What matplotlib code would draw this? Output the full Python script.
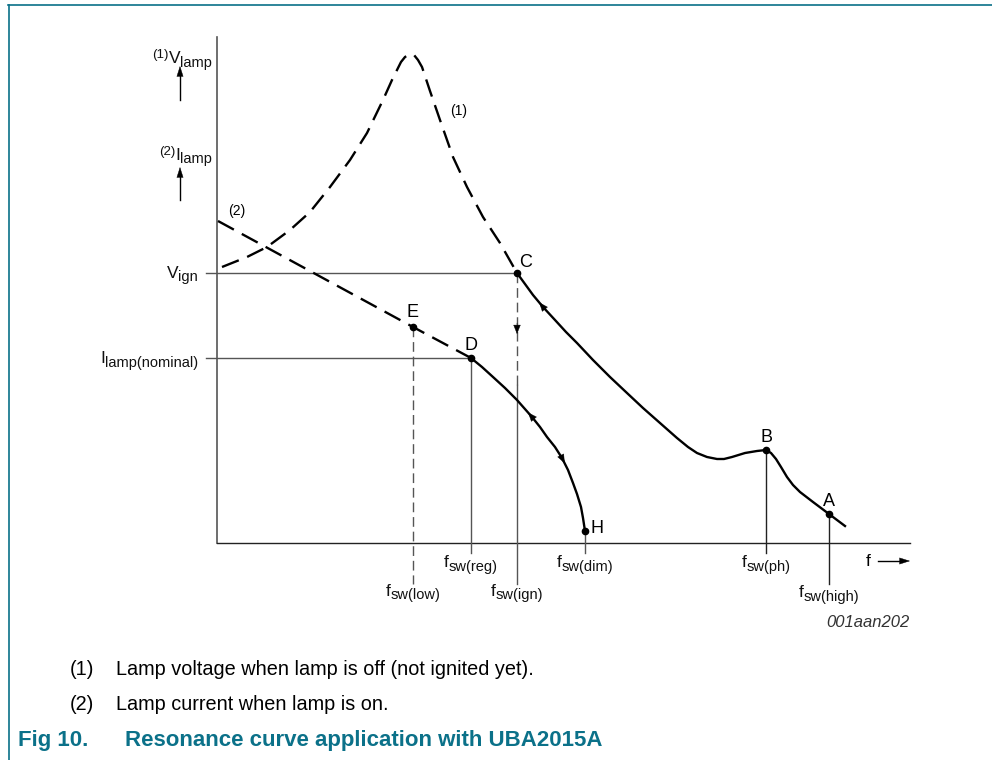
import matplotlib
matplotlib.use("Agg")
import matplotlib.pyplot as plt
import numpy as np

# Resonance curve, UBA2015A (sketch in figure pixel units)

# curve (1) lamp voltage, lamp off (dashed up to C)
VoltOffX = [222, 247, 267, 290, 310, 330, 350, 367, 383, 392, 397, 401, 405, 410, 414, 418, 422, 426, 430, 440, 453, 467, 483, 500, 517]
VoltOffY = [267, 257, 247, 230, 212, 187, 160, 133, 100, 80, 70, 62, 57, 54, 55, 60, 67, 79, 91, 120, 157, 187, 217, 243, 273]
# voltage after ignition (solid, C -> A)
VoltOnX = [517, 525, 533, 543, 555, 566, 577, 593, 610, 627, 643, 660, 677, 688, 697, 707, 717, 724, 732, 745,
           757, 766, 771, 776, 781, 787, 793, 800, 813, 829, 845]
VoltOnY = [273, 284, 295, 307, 320, 332, 343, 360, 377, 393, 408, 423, 438, 447, 453, 457, 459, 459, 457, 453,
           451, 450, 453, 459, 467, 477, 485, 492, 502, 514, 526]
# curve (2) lamp current
CurOffX = [218, 413, 471]
CurOffY = [221, 327, 358]
CurOnX = [471, 482, 493, 505, 517, 532, 540, 547, 555, 562, 568, 573, 577, 581, 583, 585]
CurOnY = [358, 367, 377, 388, 400, 417, 427, 437, 447, 458, 470, 483, 494, 507, 518, 531]

PointNames = ["C", "E", "D", "H", "B", "A"]
PointX = [517, 413, 471, 585, 766, 829]
PointY = [273, 327, 358, 531, 450, 514]

AxisY = 543
AxisX = 217

plt.rcParams['font.family'] = ['Liberation Sans', 'DejaVu Sans']
plt.rcParams['lines.scale_dashes'] = False

fig = plt.figure(figsize=(9.92, 7.6), dpi=100)
ax = fig.add_axes([0, 0, 1, 1])
ax.set_xlim(0, 992)
ax.set_ylim(760, 0)
ax.axis('off')
rend = fig.canvas.get_renderer()

teal = '#0b7189'
grey = '#555555'
HeadSmall = '-|>,head_length=0.4,head_width=0.16'


def TextWidth(s, size, **kw):
    t = ax.text(0, 0, s, fontsize=size, **kw)
    w = t.get_window_extent(rend).width
    t.remove()
    return w


def SubLabel(x, y, main, sub, ha='center', pre=None, size=12.5, subsize=10.5, drop=3.5):
    parts = []
    if pre:
        parts.append((pre, 9.5, -5))
    parts.append((main, size, 0))
    parts.append((sub, subsize, drop))
    widths = [TextWidth(s, fs) for s, fs, d in parts]
    total = sum(widths)
    if ha == 'center':
        x0 = x - total / 2
    elif ha == 'right':
        x0 = x - total
    else:
        x0 = x
    for (s, fs, d), w in zip(parts, widths):
        ax.text(x0, y + d, s, fontsize=fs, va='baseline', ha='left', color='#111111')
        x0 += w


def Arrow(x0, y0, x1, y1, lw=0.0, ms=12, style=HeadSmall):
    ax.annotate('', xy=(x1, y1), xytext=(x0, y0),
                arrowprops=dict(arrowstyle=style, color='black', lw=lw, mutation_scale=ms,
                                shrinkA=0, shrinkB=0))


def CurveArrow(xs, ys, at, toward):
    # small filled head on a curve, pointing toward the end given by 'toward'
    i = int(np.argmin(np.abs(np.array(xs) - at)))
    x1, y1 = xs[i], ys[i]
    j = i - 1 if toward == 'start' else i + 1
    dx, dy = xs[j] - x1, ys[j] - y1
    n = np.hypot(dx, dy)
    Arrow(x1 - dx / n * 2, y1 - dy / n * 2, x1 + dx / n * 6, y1 + dy / n * 6, lw=0.3, ms=15)


# frame
ax.plot([8, 992], [5, 5], color=teal, lw=1.2)
ax.plot([9, 9], [5, 760], color=teal, lw=1.2)

# axes
ax.plot([AxisX, AxisX], [37, AxisY], color=grey, lw=1.2)
ax.plot([AxisX, 910], [AxisY, AxisY], color='#222222', lw=1.0)

# horizontal guides
ax.plot([206, PointX[0]], [PointY[0], PointY[0]], color=grey, lw=1.0)
ax.plot([206, PointX[2]], [PointY[2], PointY[2]], color=grey, lw=1.0)

# vertical guides
ax.plot([PointX[1], PointX[1]], [PointY[1], 584], color=grey, lw=1.0, dashes=(7, 3.5))
ax.plot([PointX[2], PointX[2]], [PointY[2], 553], color=grey, lw=1.0)
ax.plot([PointX[0], PointX[0]], [PointY[0], 385], color=grey, lw=1.0, dashes=(7, 3.5))
ax.plot([PointX[0], PointX[0]], [385, 584], color=grey, lw=1.0)
ax.plot([PointX[3], PointX[3]], [PointY[3], 553], color=grey, lw=1.0)
ax.plot([PointX[4], PointX[4]], [PointY[4], 553], color='#222222', lw=1.0)
ax.plot([PointX[5], PointX[5]], [PointY[5], 584], color='#222222', lw=1.0)
Arrow(PointX[0], 323, PointX[0], 334, lw=0.3, ms=15)

# curves
ax.plot(VoltOffX, VoltOffY, color='black', lw=1.7, dashes=(13, 6.5))
ax.plot(VoltOnX, VoltOnY, color='black', lw=1.7)
ax.plot(CurOffX, CurOffY, color='black', lw=1.7, dashes=(13, 6.5))
ax.plot(CurOnX, CurOnY, color='black', lw=1.7)

CurveArrow(VoltOnX, VoltOnY, 543, 'start')
CurveArrow(CurOnX, CurOnY, 532, 'start')
CurveArrow(CurOnX, CurOnY, 562, 'end')

# key points
ax.plot(PointX, PointY, 'o', color='black', ms=4.5)
ax.text(519, 267, "C", fontsize=13, va='baseline', ha='left')
ax.text(413, 317, "E", fontsize=13, va='baseline', ha='center')
ax.text(471, 350, "D", fontsize=13, va='baseline', ha='center')
ax.text(590, 533, "H", fontsize=13, va='baseline', ha='left')
ax.text(767, 442, "B", fontsize=13, va='baseline', ha='center')
ax.text(829, 506, "A", fontsize=13, va='baseline', ha='center')
ax.text(450, 115, "(1)", fontsize=10, va='baseline', ha='left')
ax.text(228, 215, "(2)", fontsize=10, va='baseline', ha='left')

# y labels
SubLabel(212, 63, "V", "lamp", ha='right', pre="(1)")
SubLabel(212, 160, "I", "lamp", ha='right', pre="(2)")
for y0, y1 in [(100, 66), (200, 167)]:
    ax.plot([180, 180], [y0, y1 + 6], color='black', lw=1.0)
    Arrow(180, y1 + 8, 180, y1, lw=0.3, ms=14, style='-|>,head_length=0.5,head_width=0.16')
SubLabel(198, 278, "V", "ign", ha='right')
SubLabel(198, 363, "I", "lamp(nominal)", ha='right')

# frequency labels
SubLabel(PointX[2], 567, "f", "sw(reg)")
SubLabel(PointX[3], 567, "f", "sw(dim)")
SubLabel(PointX[4], 567, "f", "sw(ph)")
SubLabel(PointX[1], 596, "f", "sw(low)")
SubLabel(PointX[0], 596, "f", "sw(ign)")
SubLabel(PointX[5], 597, "f", "sw(high)")
ax.text(866, 566, "f", fontsize=12.5, va='baseline', ha='left')
ax.plot([878, 903], [561, 561], color='black', lw=1.0)
Arrow(902, 561, 910, 561, lw=0.3, ms=14, style='-|>,head_length=0.5,head_width=0.16')
ax.text(910, 627, "001aan202", fontsize=12, style='italic', va='baseline', ha='right', color='#333333')

# notes and caption
ax.text(70, 675, "(1)", fontsize=14.3, va='baseline')
ax.text(116, 675, "Lamp voltage when lamp is off (not ignited yet).", fontsize=14.3, va='baseline')
ax.text(70, 710, "(2)", fontsize=14.3, va='baseline')
ax.text(116, 710, "Lamp current when lamp is on.", fontsize=14.3, va='baseline')
ax.text(18, 746, "Fig 10.", fontsize=16, fontweight='bold', color=teal, va='baseline')
ax.text(125, 746, "Resonance curve application with UBA2015A", fontsize=16, fontweight='bold',
        color=teal, va='baseline')

fig.savefig("out.png", dpi=100)
